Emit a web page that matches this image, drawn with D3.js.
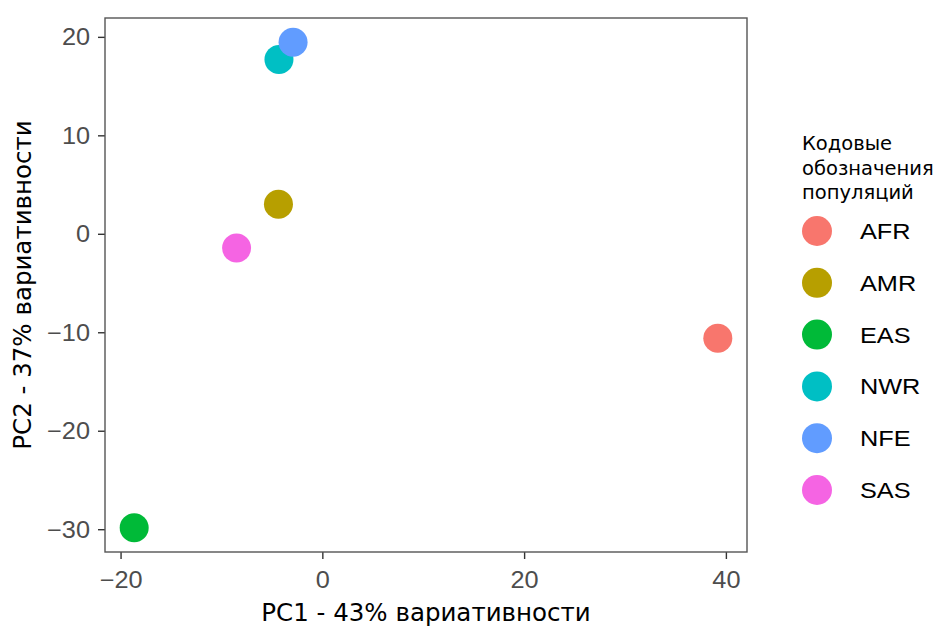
<!DOCTYPE html>
<html>
<head>
<meta charset="utf-8">
<script src="https://cdn.jsdelivr.net/npm/d3@7"></script>
<style>
  html, body { margin: 0; padding: 0; background: #ffffff; }
  svg { display: block; }
</style>
</head>
<body>
<svg id="chart" width="938" height="626"></svg>
<script>
// Population codes and their PCA coordinates
const populations = ["AFR", "AMR", "EAS", "NWR", "NFE", "SAS"];
const pc1 = [39.2, -4.35, -18.65, -4.3, -2.9, -8.5];
const pc2 = [-10.6, 3.0, -29.85, 17.7, 19.45, -1.45];
const popColors = ["#F8766D", "#B79F00", "#00BA38", "#00BFC4", "#619CFF", "#F564E3"];
const xTicks = [-20, 0, 20, 40];
const yTicks = [-30, -20, -10, 0, 10, 20];
const xTitle = "PC1 - 43% вариативности";
const yTitle = "PC2 - 37% вариативности";
const legendTitle = ["Кодовые", "обозначения", "популяций"];

const points = populations.map((p, i) => ({ pop: p, x: pc1[i], y: pc2[i] }));

const svg = d3.select("#chart");
const panel = { left: 105, right: 747, top: 18, bottom: 552 };

// 5% padding around the data range on both axes
function expand(ext) {
  const pad = (ext[1] - ext[0]) * 0.05;
  return [ext[0] - pad, ext[1] + pad];
}

const x = d3.scaleLinear()
  .domain(expand(d3.extent(pc1)))
  .range([panel.left, panel.right]);
const y = d3.scaleLinear()
  .domain(expand(d3.extent(pc2)))
  .range([panel.bottom, panel.top]);
const color = d3.scaleOrdinal().domain(populations).range(popColors);

const tickFont = "'Liberation Sans', Arial, sans-serif";
const titleFont = "'DejaVu Sans', sans-serif";
const fmt = d => d < 0 ? "\u2212" + Math.abs(d) : String(d);
const wide = 1.1; // slightly widened sans for tick and key labels

// Axes
const xAxis = svg.append("g")
  .attr("transform", `translate(0,${panel.bottom})`)
  .call(d3.axisBottom(x).tickValues(xTicks).tickSize(7).tickFormat(fmt));
const yAxis = svg.append("g")
  .attr("transform", `translate(${panel.left},0)`)
  .call(d3.axisLeft(y).tickValues(yTicks).tickSize(7).tickFormat(fmt));

[xAxis, yAxis].forEach(g => {
  g.select(".domain").remove();
  g.selectAll(".tick line").attr("stroke", "#333333").attr("stroke-width", 1.4);
  g.selectAll(".tick text")
    .attr("fill", "#4d4d4d")
    .style("font-family", tickFont)
    .style("font-size", "23px");
});
xAxis.selectAll(".tick text")
  .attr("x", 0).attr("y", 0).attr("dy", null)
  .attr("transform", `translate(0,36) scale(${wide},1)`);
yAxis.selectAll(".tick text")
  .attr("x", 0).attr("y", 0).attr("dy", "0.35em")
  .attr("transform", `translate(-15,0) scale(${wide},1)`);

// Panel border
svg.append("rect")
  .attr("x", panel.left).attr("y", panel.top)
  .attr("width", panel.right - panel.left)
  .attr("height", panel.bottom - panel.top)
  .attr("fill", "none")
  .attr("stroke", "#555555")
  .attr("stroke-width", 1.4);

// Points
svg.append("g")
  .selectAll("circle")
  .data(points)
  .join("circle")
  .attr("cx", d => x(d.x))
  .attr("cy", d => y(d.y))
  .attr("r", 14.5)
  .attr("fill", d => color(d.pop));

// Axis titles
svg.append("text")
  .attr("x", (panel.left + panel.right) / 2)
  .attr("y", 621)
  .attr("text-anchor", "middle")
  .style("font-family", titleFont)
  .style("font-size", "24.5px")
  .attr("fill", "#000")
  .text(xTitle);

svg.append("text")
  .attr("transform", `translate(31,${(panel.top + panel.bottom) / 2}) rotate(-90)`)
  .attr("text-anchor", "middle")
  .style("font-family", titleFont)
  .style("font-size", "24.5px")
  .attr("fill", "#000")
  .text(yTitle);

// Legend
const legend = svg.append("g");
legend.selectAll("text.title")
  .data(legendTitle)
  .join("text")
  .attr("class", "title")
  .attr("x", 802)
  .attr("y", (d, i) => 150 + i * 24.5)
  .style("font-family", titleFont)
  .style("font-size", "19.5px")
  .attr("fill", "#000")
  .text(d => d);

const item = legend.selectAll("g.item")
  .data(populations)
  .join("g")
  .attr("class", "item")
  .attr("transform", (d, i) => `translate(817,${231 + i * 51.8})`);
item.append("circle").attr("r", 15).attr("fill", d => color(d));
item.append("text")
  .attr("dy", "0.36em")
  .attr("transform", `translate(43,0) scale(1.15,1)`)
  .style("font-family", tickFont)
  .style("font-size", "22px")
  .attr("fill", "#000")
  .text(d => d);
</script>
</body>
</html>
